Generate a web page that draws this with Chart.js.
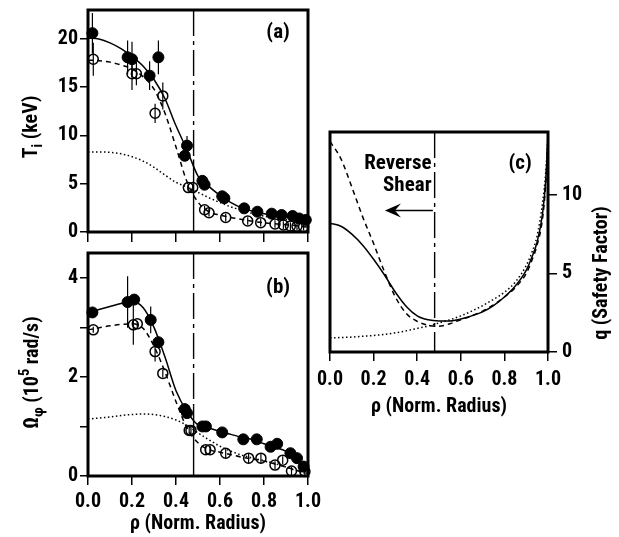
<!DOCTYPE html>
<html>
<head>
<meta charset="utf-8">
<script src="https://cdn.jsdelivr.net/npm/chart.js@4.4.0/dist/chart.umd.min.js"></script>
<style>
  html, body { margin: 0; padding: 0; background: #fff; }
  body { width: 619px; height: 537px; position: relative; overflow: hidden; }
  canvas { position: absolute; }
</style>
</head>
<body>
<canvas id="chartA" width="322" height="250" style="left:0;top:0"></canvas>
<canvas id="chartB" width="322" height="293" style="left:0;top:244px"></canvas>
<canvas id="chartC" width="307" height="300" style="left:312px;top:120px"></canvas>
<script>
// ---- data ----
const shearRho = 0.48   // location of q minimum (vertical line)

// (a) ion temperature, keV
const tiFilledRho = [0.02, 0.18, 0.20, 0.28, 0.32, 0.44, 0.45, 0.52, 0.53, 0.61, 0.62, 0.71, 0.77, 0.835, 0.88, 0.93, 0.96, 0.99]
const tiFilledVal = [20.6, 18.1, 17.9, 16.2, 18.1, 7.9, 8.95, 5.3, 4.9, 3.7, 3.5, 2.45, 2.1, 1.9, 1.76, 1.66, 1.4, 1.25]
const tiFilledErr = [2.1, 1.75, 1.8, 1.5, 1.75, 0.5, 1.0, 0.3, 0.3, 0.3, 0.3, 0.3, 0.3, 0.3, 0.3, 0.3, 0.3, 0.3]
const tiOpenRho = [0.024, 0.20, 0.22, 0.305, 0.34, 0.456, 0.476, 0.53, 0.55, 0.626, 0.726, 0.785, 0.85, 0.888, 0.92, 0.95, 0.98]
const tiOpenVal = [17.9, 16.4, 16.4, 12.3, 14.1, 4.6, 4.6, 2.3, 2.0, 1.5, 1.14, 0.97, 0.83, 0.72, 0.62, 0.6, 0.55]
const tiOpenErr = [1.7, 1.7, 1.2, 1.0, 1.4, 0.4, 0.4, 0.4, 0.4, 0.4, 0.4, 0.4, 0.4, 0.4, 0.4, 0.4, 0.4]

const fitRho = [0, 0.05, 0.1, 0.15, 0.2, 0.25, 0.3, 0.35, 0.4, 0.45, 0.5, 0.55, 0.6, 0.65, 0.7, 0.75, 0.8, 0.85, 0.9, 0.95, 1.0]
const tiSolid = [20.1, 20.0, 19.6, 19.0, 18.2, 17.2, 15.8, 13.8, 11.0, 8.5, 5.8, 4.7, 3.8, 3.05, 2.5, 2.15, 1.9, 1.75, 1.6, 1.4, 1.2]
const tiDashed = [17.8, 17.75, 17.6, 17.3, 16.9, 16.1, 14.8, 12.3, 8.8, 5.2, 3.1, 2.1, 1.75, 1.5, 1.3, 1.1, 0.95, 0.85, 0.75, 0.65, 0.5]
const tiDotted = [8.3, 8.3, 8.25, 8.1, 7.8, 7.35, 6.7, 5.9, 5.15, 4.65, 4.1, 3.55, 3.05, 2.6, 2.25, 1.9, 1.65, 1.45, 1.3, 1.15, 1.0]

// (b) toroidal rotation, 10^5 rad/s
const omFilledRho = [0.02, 0.18, 0.21, 0.285, 0.32, 0.44, 0.45, 0.52, 0.536, 0.61, 0.706, 0.767, 0.83, 0.86, 0.92, 0.95, 0.98]
const omFilledVal = [3.30, 3.51, 3.56, 3.15, 2.70, 1.35, 1.27, 1.00, 1.00, 0.88, 0.74, 0.74, 0.59, 0.65, 0.46, 0.36, 0.19]
const omFilledErr = [0.08, 0.52, 0.1, 0.27, 0.08, 0.08, 0.08, 0.06, 0.06, 0.06, 0.06, 0.06, 0.06, 0.06, 0.06, 0.06, 0.06]
const omOpenRho = [0.024, 0.206, 0.224, 0.305, 0.34, 0.46, 0.468, 0.535, 0.555, 0.626, 0.73, 0.786, 0.85, 0.885, 0.925, 0.986]
const omOpenVal = [2.95, 3.05, 3.07, 2.51, 2.07, 0.92, 0.92, 0.53, 0.53, 0.46, 0.36, 0.36, 0.22, 0.32, 0.10, 0.09]
const omOpenErr = [0.06, 0.4, 0.06, 0.2, 0.08, 0.1, 0.1, 0.08, 0.08, 0.1, 0.1, 0.1, 0.08, 0.08, 0.08, 0.08]

const omSolid = [3.3, 3.36, 3.42, 3.48, 3.52, 3.4, 3.0, 2.4, 1.72, 1.3, 1.03, 0.97, 0.9, 0.84, 0.78, 0.73, 0.65, 0.58, 0.5, 0.36, 0.1]
const omDashed = [2.95, 2.99, 3.03, 3.06, 3.07, 2.98, 2.62, 2.1, 1.5, 0.97, 0.67, 0.53, 0.48, 0.43, 0.38, 0.34, 0.3, 0.24, 0.18, 0.11, 0.05]
const omDotted = [1.15, 1.17, 1.19, 1.22, 1.24, 1.25, 1.24, 1.2, 1.13, 1.02, 0.87, 0.73, 0.6, 0.5, 0.42, 0.36, 0.31, 0.25, 0.18, 0.1, 0.04]

// (c) safety factor
const qRho = [0, 0.05, 0.1, 0.15, 0.2, 0.25, 0.3, 0.35, 0.4, 0.45, 0.5, 0.55, 0.6, 0.65, 0.7, 0.75, 0.8, 0.85, 0.9, 0.925, 0.95, 0.975, 0.99, 1.0]
const qSolid = [8.2, 8.0, 7.5, 6.8, 5.9, 4.9, 3.8, 2.9, 2.3, 2.05, 1.98, 1.98, 2.1, 2.3, 2.55, 2.95, 3.5, 4.2, 5.2, 6.0, 7.0, 8.8, 11.0, 13.8]
const qDashed = [13.4, 12.3, 10.5, 8.6, 6.9, 5.1, 3.5, 2.45, 1.95, 1.7, 1.64, 1.8, 2.05, 2.3, 2.6, 3.0, 3.5, 4.1, 5.0, 5.8, 6.8, 8.5, 10.8, 13.6]
const qDotted = [0.9, 0.92, 0.95, 1.0, 1.05, 1.12, 1.22, 1.35, 1.5, 1.65, 1.85, 2.05, 2.3, 2.6, 2.95, 3.35, 3.8, 4.45, 5.5, 6.3, 7.4, 9.5, 11.5, 13.8]

// ---- helpers ----
const FONT = "'Roboto Condensed', 'DejaVu Sans Condensed', sans-serif"
const FS = 20
Chart.defaults.font.family = FONT
Chart.defaults.font.weight = 'bold'
Chart.defaults.font.size = FS
Chart.defaults.color = '#000'

function pts(xs, ys) {
  return xs.map((x, i) => ({ x: x, y: ys[i] }))
}

function errSegments(xs, ys, es) {
  let out = []
  xs.forEach((x, i) => {
    out.push({ x: x, y: ys[i] - es[i] }, { x: x, y: ys[i] + es[i] }, { x: x, y: null })
  })
  return out
}

function curve(data, dash) {
  return {
    data: data, showLine: true, borderColor: '#000', borderWidth: 1.5, borderDash: dash,
    pointRadius: 0, cubicInterpolationMode: 'monotone', fill: false
  }
}

function errBars(data) {
  return { data: data, showLine: true, spanGaps: false, borderColor: '#000', borderWidth: 1.2, pointRadius: 0 }
}

function filledPts(data) {
  return { data: data, pointRadius: 5.5, pointBackgroundColor: '#000', pointBorderColor: '#000', pointBorderWidth: 1, clip: 8 }
}

function openPts(data) {
  return { data: data, pointRadius: 5, pointBackgroundColor: 'rgba(0,0,0,0)', pointBorderColor: '#000', pointBorderWidth: 1.5, clip: 8 }
}

function vline(top, split, bottom) {
  let sets = [curve([{ x: shearRho, y: top }, { x: shearRho, y: split }], [26, 5, 4, 5])]
  if (split > bottom) sets.push(curve([{ x: shearRho, y: split }, { x: shearRho, y: bottom }], []))
  sets.forEach(s => { s.cubicInterpolationMode = 'default'; s.borderWidth = 1.4 })
  return sets
}

const tickGrid = (len) => ({ drawOnChartArea: false, drawTicks: true, tickLength: len, color: '#000', lineWidth: 1.5 })

// fixed axis size, no extra padding from overhanging labels
function fixSize(w, h) {
  return function (s) {
    if (w !== null) s.width = w
    if (h !== null) s.height = h
    s.paddingTop = 0
    s.paddingBottom = 0
    s.paddingLeft = 0
    s.paddingRight = 0
  }
}

const framePlugin = {
  id: 'frame',
  afterDraw(chart) {
    const a = chart.chartArea, ctx = chart.ctx
    ctx.save()
    ctx.strokeStyle = '#000'
    ctx.lineWidth = 3
    ctx.strokeRect(a.left, a.top, a.right - a.left, a.bottom - a.top)
    ctx.restore()
  }
}

// rotated axis title with sub/superscripts
function sideTitle(parts, side, gap, dy) {
  return {
    id: 'sideTitle',
    afterDraw(chart) {
      const a = chart.chartArea, ctx = chart.ctx
      const cx = side === 'left' ? a.left - gap : a.right + gap
      const cy = (a.top + a.bottom) / 2 + dy
      ctx.save()
      ctx.translate(cx, cy)
      ctx.rotate(-Math.PI / 2)
      ctx.fillStyle = '#000'
      ctx.textBaseline = 'middle'
      ctx.textAlign = 'left'
      let w = 0
      parts.forEach(p => {
        p.fs = (p.sub || p.sup) ? FS * 0.72 : FS
        ctx.font = 'bold ' + p.fs + 'px ' + FONT
        p.w = ctx.measureText(p.t).width
        w += p.w
      })
      let x = -w / 2
      parts.forEach(p => {
        ctx.font = 'bold ' + p.fs + 'px ' + FONT
        let off = p.sub ? FS * 0.32 : (p.sup ? -FS * 0.36 : 0)
        ctx.fillText(p.t, x, off)
        x += p.w
      })
      ctx.restore()
    }
  }
}

// text labels and arrow placed in data coordinates
function notes(items, arrow) {
  return {
    id: 'notes',
    afterDraw(chart) {
      const ctx = chart.ctx, xs = chart.scales.x, ys = chart.scales.y
      ctx.save()
      ctx.fillStyle = '#000'
      ctx.strokeStyle = '#000'
      ctx.textBaseline = 'middle'
      items.forEach(n => {
        ctx.font = 'bold ' + n.size + 'px ' + FONT
        ctx.textAlign = n.align || 'center'
        ctx.fillText(n.text, xs.getPixelForValue(n.x), ys.getPixelForValue(n.y))
      })
      if (arrow) {
        let x0 = xs.getPixelForValue(arrow.from)
        let x1 = xs.getPixelForValue(arrow.to)
        let y = ys.getPixelForValue(arrow.y)
        ctx.lineWidth = 1.6
        ctx.beginPath()
        ctx.moveTo(x0, y)
        ctx.lineTo(x1 + 8, y)
        ctx.stroke()
        ctx.beginPath()
        ctx.moveTo(x1, y)
        ctx.lineTo(x1 + 16, y - 7)
        ctx.lineTo(x1 + 10, y)
        ctx.lineTo(x1 + 16, y + 7)
        ctx.closePath()
        ctx.fill()
      }
      ctx.restore()
    }
  }
}

const baseOpts = {
  responsive: false,
  animation: false,
  events: [],
  plugins: { legend: { display: false }, tooltip: { enabled: false } }
}

// ---- (a) ----
new Chart(document.getElementById('chartA'), {
  type: 'scatter',
  data: {
    datasets: [
      curve(pts(fitRho, tiDotted), [1.5, 2.5]),
      curve(pts(fitRho, tiDashed), [5, 4]),
      curve(pts(fitRho, tiSolid), []),
      ...vline(23, 7.5, 0),
      errBars(errSegments(tiFilledRho, tiFilledVal, tiFilledErr)),
      errBars(errSegments(tiOpenRho, tiOpenVal, tiOpenErr)),
      openPts(pts(tiOpenRho, tiOpenVal)),
      filledPts(pts(tiFilledRho, tiFilledVal))
    ]
  },
  options: {
    ...baseOpts,
    layout: { padding: { top: 10, right: 14, left: 0, bottom: 0 } },
    scales: {
      x: {
        type: 'linear', min: 0, max: 1,
        ticks: { stepSize: 0.2, includeBounds: false, callback: () => '' },
        grid: tickGrid(10), border: { display: false },
        afterFit: fixSize(null, 18)
      },
      y: {
        min: 0, max: 23,
        ticks: { stepSize: 5, includeBounds: false, padding: 2 },
        grid: tickGrid(8), border: { display: false },
        afterFit: fixSize(88, null)
      }
    }
  },
  plugins: [framePlugin,
    sideTitle([{ t: 'T' }, { t: 'i', sub: true }, { t: ' (keV)' }], 'left', 56, 6),
    notes([{ text: '(a)', x: 0.864, y: 20.6, size: 21 }])]
})

// ---- (b) ----
new Chart(document.getElementById('chartB'), {
  type: 'scatter',
  data: {
    datasets: [
      curve(pts(fitRho, omDotted), [1.5, 2.5]),
      curve(pts(fitRho, omDashed), [5, 4]),
      curve(pts(fitRho, omSolid), []),
      ...vline(4.5, 1.4, 0),
      errBars(errSegments(omFilledRho, omFilledVal, omFilledErr)),
      errBars(errSegments(omOpenRho, omOpenVal, omOpenErr)),
      openPts(pts(omOpenRho, omOpenVal)),
      filledPts(pts(omFilledRho, omFilledVal))
    ]
  },
  options: {
    ...baseOpts,
    layout: { padding: { top: 9, right: 14, left: 0, bottom: 0 } },
    scales: {
      x: {
        type: 'linear', min: 0, max: 1,
        ticks: { stepSize: 0.2, includeBounds: false, padding: 5, callback: v => v.toFixed(1) },
        grid: tickGrid(9), border: { display: false },
        title: { display: true, text: 'ρ (Norm. Radius)', padding: { top: 0, bottom: 1 } },
        afterFit: fixSize(null, 61)
      },
      y: {
        min: 0, max: 4.5,
        ticks: { stepSize: 1, includeBounds: false, padding: 2, callback: v => (v % 2 === 0 ? v : '') },
        grid: tickGrid(8), border: { display: false },
        afterFit: fixSize(88, null)
      }
    }
  },
  plugins: [framePlugin,
    sideTitle([{ t: 'Ω' }, { t: 'φ', sub: true }, { t: ' (10' }, { t: '5', sup: true }, { t: ' rad/s)' }], 'left', 55, 8),
    notes([{ text: '(b)', x: 0.864, y: 3.8, size: 21 }])]
})

// ---- (c) ----
new Chart(document.getElementById('chartC'), {
  type: 'scatter',
  data: {
    datasets: [
      curve(pts(qRho, qDotted), [1.5, 2.5]),
      curve(pts(qRho, qDashed), [5, 4]),
      curve(pts(qRho, qSolid), []),
      ...vline(14, 0, 0)
    ]
  },
  options: {
    ...baseOpts,
    layout: { padding: { top: 12, right: 0, left: 18, bottom: 0 } },
    scales: {
      x: {
        type: 'linear', min: 0, max: 1,
        ticks: { stepSize: 0.2, includeBounds: false, padding: 7, callback: v => v.toFixed(1) },
        grid: tickGrid(9), border: { display: false },
        title: { display: true, text: 'ρ (Norm. Radius)', padding: { top: 0, bottom: 1 } },
        afterFit: fixSize(null, 68)
      },
      y: {
        position: 'right', min: 0, max: 14,
        ticks: { stepSize: 5, includeBounds: false, padding: 5 },
        grid: tickGrid(9), border: { display: false },
        afterFit: fixSize(71, null)
      }
    }
  },
  plugins: [framePlugin,
    sideTitle([{ t: 'q (Safety Factor)' }], 'right', 54, 31),
    notes([
      { text: '(c)', x: 0.872, y: 12.0, size: 21 },
      { text: 'Reverse', x: 0.466, y: 12.0, size: 21, align: 'right' },
      { text: 'Shear', x: 0.466, y: 10.55, size: 21, align: 'right' }
    ], { from: 0.472, to: 0.252, y: 9.0 })]
})
</script>
</body>
</html>
